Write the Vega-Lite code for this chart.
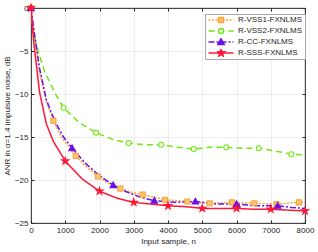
{
  "$schema": "https://vega.github.io/schema/vega-lite/v6.json",
  "width": 274,
  "height": 215,
  "autosize": {"type": "none"},
  "padding": {"left": 31, "top": 8, "right": 13, "bottom": 29},
  "config": {
    "font": "Liberation Sans",
    "view": {"stroke": "#262626", "strokeWidth": 0.8},
    "axis": {
      "labelFont": "Liberation Sans", "titleFont": "Liberation Sans",
      "labelFontSize": 8, "titleFontSize": 8, "labelColor": "#262626", "titleColor": "#262626",
      "titleFontWeight": "normal", "domainColor": "#262626", "tickColor": "#262626",
      "gridColor": "#e6e6e6", "gridWidth": 0.7, "tickSize": -3, "domainWidth": 0.8
    },
    "legend": {"labelFont": "Liberation Sans", "labelFontSize": 8, "labelColor": "#262626"}
  },
  "resolve": {"axis": {"x": "independent", "y": "independent"}},
  "data": {"values": [
    {"series": "R-VSS1-FXNLMS", "n": 0, "anr": 0, "m": 1},
    {"series": "R-VSS1-FXNLMS", "n": 100, "anr": -3.2, "m": 0},
    {"series": "R-VSS1-FXNLMS", "n": 250, "anr": -7.5, "m": 0},
    {"series": "R-VSS1-FXNLMS", "n": 450, "anr": -10.9, "m": 0},
    {"series": "R-VSS1-FXNLMS", "n": 652, "anr": -13.1, "m": 1},
    {"series": "R-VSS1-FXNLMS", "n": 900, "anr": -15.1, "m": 0},
    {"series": "R-VSS1-FXNLMS", "n": 1304, "anr": -17.2, "m": 1},
    {"series": "R-VSS1-FXNLMS", "n": 1600, "anr": -18.4, "m": 0},
    {"series": "R-VSS1-FXNLMS", "n": 1956, "anr": -19.6, "m": 1},
    {"series": "R-VSS1-FXNLMS", "n": 2300, "anr": -20.5, "m": 0},
    {"series": "R-VSS1-FXNLMS", "n": 2608, "anr": -21.0, "m": 1},
    {"series": "R-VSS1-FXNLMS", "n": 2900, "anr": -21.4, "m": 0},
    {"series": "R-VSS1-FXNLMS", "n": 3260, "anr": -21.7, "m": 1},
    {"series": "R-VSS1-FXNLMS", "n": 3600, "anr": -22.0, "m": 0},
    {"series": "R-VSS1-FXNLMS", "n": 3912, "anr": -22.3, "m": 1},
    {"series": "R-VSS1-FXNLMS", "n": 4564, "anr": -22.5, "m": 1},
    {"series": "R-VSS1-FXNLMS", "n": 5216, "anr": -22.7, "m": 1},
    {"series": "R-VSS1-FXNLMS", "n": 5868, "anr": -22.6, "m": 1},
    {"series": "R-VSS1-FXNLMS", "n": 6520, "anr": -22.7, "m": 1},
    {"series": "R-VSS1-FXNLMS", "n": 7172, "anr": -22.8, "m": 1},
    {"series": "R-VSS1-FXNLMS", "n": 7824, "anr": -22.6, "m": 1},
    {"series": "R-VSS1-FXNLMS", "n": 8000, "anr": -22.6, "m": 0},

    {"series": "R-VSS2-FXNLMS", "n": 0, "anr": 0, "m": 1},
    {"series": "R-VSS2-FXNLMS", "n": 60, "anr": -2.8, "m": 0},
    {"series": "R-VSS2-FXNLMS", "n": 200, "anr": -4.9, "m": 0},
    {"series": "R-VSS2-FXNLMS", "n": 400, "anr": -7.4, "m": 0},
    {"series": "R-VSS2-FXNLMS", "n": 700, "anr": -9.9, "m": 0},
    {"series": "R-VSS2-FXNLMS", "n": 950, "anr": -11.6, "m": 1},
    {"series": "R-VSS2-FXNLMS", "n": 1400, "anr": -13.3, "m": 0},
    {"series": "R-VSS2-FXNLMS", "n": 1900, "anr": -14.5, "m": 1},
    {"series": "R-VSS2-FXNLMS", "n": 2400, "anr": -15.3, "m": 0},
    {"series": "R-VSS2-FXNLMS", "n": 2850, "anr": -15.7, "m": 1},
    {"series": "R-VSS2-FXNLMS", "n": 3300, "anr": -15.9, "m": 0},
    {"series": "R-VSS2-FXNLMS", "n": 3800, "anr": -15.9, "m": 1},
    {"series": "R-VSS2-FXNLMS", "n": 4300, "anr": -16.2, "m": 0},
    {"series": "R-VSS2-FXNLMS", "n": 4750, "anr": -16.4, "m": 1},
    {"series": "R-VSS2-FXNLMS", "n": 5200, "anr": -16.2, "m": 0},
    {"series": "R-VSS2-FXNLMS", "n": 5700, "anr": -16.2, "m": 1},
    {"series": "R-VSS2-FXNLMS", "n": 6200, "anr": -16.3, "m": 0},
    {"series": "R-VSS2-FXNLMS", "n": 6650, "anr": -16.3, "m": 1},
    {"series": "R-VSS2-FXNLMS", "n": 7100, "anr": -16.6, "m": 0},
    {"series": "R-VSS2-FXNLMS", "n": 7600, "anr": -17.0, "m": 1},
    {"series": "R-VSS2-FXNLMS", "n": 8000, "anr": -17.1, "m": 0},

    {"series": "R-CC-FXNLMS", "n": 0, "anr": 0, "m": 1},
    {"series": "R-CC-FXNLMS", "n": 100, "anr": -3.0, "m": 0},
    {"series": "R-CC-FXNLMS", "n": 250, "anr": -7.0, "m": 0},
    {"series": "R-CC-FXNLMS", "n": 450, "anr": -10.7, "m": 0},
    {"series": "R-CC-FXNLMS", "n": 700, "anr": -13.2, "m": 0},
    {"series": "R-CC-FXNLMS", "n": 950, "anr": -15.0, "m": 0},
    {"series": "R-CC-FXNLMS", "n": 1200, "anr": -16.3, "m": 1},
    {"series": "R-CC-FXNLMS", "n": 1600, "anr": -18.1, "m": 0},
    {"series": "R-CC-FXNLMS", "n": 2000, "anr": -19.5, "m": 0},
    {"series": "R-CC-FXNLMS", "n": 2400, "anr": -20.6, "m": 1},
    {"series": "R-CC-FXNLMS", "n": 2800, "anr": -21.4, "m": 0},
    {"series": "R-CC-FXNLMS", "n": 3200, "anr": -22.0, "m": 0},
    {"series": "R-CC-FXNLMS", "n": 3600, "anr": -22.4, "m": 1},
    {"series": "R-CC-FXNLMS", "n": 4200, "anr": -22.6, "m": 0},
    {"series": "R-CC-FXNLMS", "n": 4800, "anr": -22.5, "m": 1},
    {"series": "R-CC-FXNLMS", "n": 5400, "anr": -22.8, "m": 0},
    {"series": "R-CC-FXNLMS", "n": 6000, "anr": -22.8, "m": 1},
    {"series": "R-CC-FXNLMS", "n": 6600, "anr": -23.0, "m": 0},
    {"series": "R-CC-FXNLMS", "n": 7200, "anr": -23.0, "m": 1},
    {"series": "R-CC-FXNLMS", "n": 7600, "anr": -23.2, "m": 0},
    {"series": "R-CC-FXNLMS", "n": 8000, "anr": -23.3, "m": 0},

    {"series": "R-SSS-FXNLMS", "n": 0, "anr": 0, "m": 1},
    {"series": "R-SSS-FXNLMS", "n": 80, "anr": -4.0, "m": 0},
    {"series": "R-SSS-FXNLMS", "n": 250, "anr": -9.8, "m": 0},
    {"series": "R-SSS-FXNLMS", "n": 450, "anr": -13.5, "m": 0},
    {"series": "R-SSS-FXNLMS", "n": 650, "anr": -15.5, "m": 0},
    {"series": "R-SSS-FXNLMS", "n": 1000, "anr": -17.8, "m": 1},
    {"series": "R-SSS-FXNLMS", "n": 1500, "anr": -19.9, "m": 0},
    {"series": "R-SSS-FXNLMS", "n": 2000, "anr": -21.3, "m": 1},
    {"series": "R-SSS-FXNLMS", "n": 2500, "anr": -22.1, "m": 0},
    {"series": "R-SSS-FXNLMS", "n": 3000, "anr": -22.6, "m": 1},
    {"series": "R-SSS-FXNLMS", "n": 3500, "anr": -22.8, "m": 0},
    {"series": "R-SSS-FXNLMS", "n": 4000, "anr": -23.0, "m": 1},
    {"series": "R-SSS-FXNLMS", "n": 4500, "anr": -23.1, "m": 0},
    {"series": "R-SSS-FXNLMS", "n": 5000, "anr": -23.3, "m": 1},
    {"series": "R-SSS-FXNLMS", "n": 5500, "anr": -23.3, "m": 0},
    {"series": "R-SSS-FXNLMS", "n": 6000, "anr": -23.3, "m": 1},
    {"series": "R-SSS-FXNLMS", "n": 6500, "anr": -23.4, "m": 0},
    {"series": "R-SSS-FXNLMS", "n": 7000, "anr": -23.4, "m": 1},
    {"series": "R-SSS-FXNLMS", "n": 7500, "anr": -23.5, "m": 0},
    {"series": "R-SSS-FXNLMS", "n": 8000, "anr": -23.6, "m": 1}
  ]},
  "layer": [
    {
      "mark": {"type": "line", "clip": true},
      "encoding": {
        "x": {"field": "n", "type": "quantitative",
          "scale": {"domain": [0, 8000], "nice": false},
          "axis": {"values": [0,1000,2000,3000,4000,5000,6000,7000,8000], "format": "d", "title": "Input sample, n", "labelPadding": 6, "titlePadding": 3, "labelFlush": false}},
        "y": {"field": "anr", "type": "quantitative",
          "scale": {"domain": [-25, 0], "nice": false},
          "axis": {"values": [-25,-20,-15,-10,-5,0], "title": "ANR in α=1.4 impulsive noise, dB", "labelPadding": 6, "titlePadding": 3}},
        "detail": {"field": "series"},
        "color": {"field": "series", "type": "nominal",
          "scale": {"domain": ["R-VSS1-FXNLMS","R-VSS2-FXNLMS","R-CC-FXNLMS","R-SSS-FXNLMS"], "range": ["#fba534","#6ee80f","#6a10e8","#ff1736"]},
          "legend": {"orient": "none", "legendX": 174, "legendY": 6, "title": null, "symbolType": "M-1,0H9", "symbolSize": 25, "symbolStrokeWidth": 1.6, "labelOffset": 23, "padding": 2, "rowPadding": 3, "clipHeight": 8, "strokeColor": "#a8a8a8", "fillColor": "white", "labelFontSize": 8}},
        "strokeDash": {"field": "series", "type": "nominal",
          "scale": {"domain": ["R-VSS1-FXNLMS","R-VSS2-FXNLMS","R-CC-FXNLMS","R-SSS-FXNLMS"], "range": [[2,1.5],[6,4],[6,2,2,2],[1,0]]}},
        "strokeWidth": {"field": "series", "type": "nominal",
          "scale": {"domain": ["R-VSS1-FXNLMS","R-VSS2-FXNLMS","R-CC-FXNLMS","R-SSS-FXNLMS"], "range": [1.5,1.5,1.5,2]}},
        "order": {"field": "n"}
      }
    },
    {
      "transform": [{"filter": "datum.m == 1"}],
      "mark": {"type": "point", "filled": true, "strokeWidth": 1.1, "opacity": 1, "size": 25, "clip": false},
      "encoding": {
        "x": {"field": "n", "type": "quantitative",
          "scale": {"domain": [0, 8000], "nice": false},
          "axis": {"orient": "top", "values": [0,1000,2000,3000,4000,5000,6000,7000,8000], "labels": false, "title": null, "grid": false}},
        "y": {"field": "anr", "type": "quantitative",
          "scale": {"domain": [-25, 0], "nice": false},
          "axis": {"orient": "right", "values": [-25,-20,-15,-10,-5,0], "labels": false, "title": null, "grid": false}},
        "shape": {"field": "series", "type": "nominal",
          "scale": {"domain": ["R-VSS1-FXNLMS","R-VSS2-FXNLMS","R-CC-FXNLMS","R-SSS-FXNLMS","none"], "range": ["square","circle","M0,-1.3L1.3,1L-1.3,1Z","M0,-1.5L0.337,-0.464L1.427,-0.464L0.545,0.177L0.882,1.214L0,0.573L-0.882,1.214L-0.545,0.177L-1.427,-0.464L-0.337,-0.464Z","circle"]},
          "legend": {"orient": "none", "legendX": 184, "legendY": 6, "title": null, "values": ["R-VSS1-FXNLMS","R-VSS2-FXNLMS","R-CC-FXNLMS","R-SSS-FXNLMS"], "labelExpr": "''", "padding": 2, "rowPadding": 3, "clipHeight": 8, "labelFontSize": 8, "symbolSize": 25}},
        "fill": {"field": "series", "type": "nominal",
          "scale": {"domain": ["R-VSS1-FXNLMS","R-VSS2-FXNLMS","R-CC-FXNLMS","R-SSS-FXNLMS","none"], "range": ["#fcc578","#ffffff","#6a10e8","#ff1736","#000000"]}},
        "stroke": {"field": "series", "type": "nominal",
          "scale": {"domain": ["R-VSS1-FXNLMS","R-VSS2-FXNLMS","R-CC-FXNLMS","R-SSS-FXNLMS","none"], "range": ["#fba534","#6ee80f","#6a10e8","#ff1736","#000000"]}}
      }
    }
  ]
}
